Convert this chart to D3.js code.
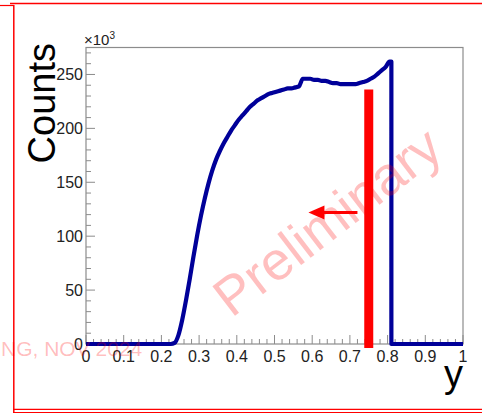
<!DOCTYPE html>
<html><head><meta charset="utf-8">
<script src="https://cdn.jsdelivr.net/npm/d3@7"></script>
<style>html,body{margin:0;padding:0;background:#fff;}svg{display:block;}</style>
</head><body>
<svg id="c" width="482" height="415"></svg>
<script>
// ---- data (counts in units of 10^3, bin width 0.01 from 0 to 1) ----
const binWidth = 0.01;
const counts = [
  0,0,0,0,0,0,0,0,0,0,
  0,0,0,0,0,0,0,0,0,0,
  0,0,0,1,8,22,40,60,81,101,
  119,135,149,161,171,179,186,192,198,203,
  208,212,216,220,223,226,228,230,232,233,
  234,235,236,237,237,238,239,246,246,246,
  245,245,244,244,243,242,242,241,241,241,
  241,241,242,243,244,246,248,251,254,257,
  262,0,0,0,0,0,0,0,0,0,
  0,0,0,0,0,0,0,0,0,0
];
const xTicks = [0,0.1,0.2,0.3,0.4,0.5,0.6,0.7,0.8,0.9,1];
const xTickLabels = ["0","0.1","0.2","0.3","0.4","0.5","0.6","0.7","0.8","0.9","1"];
const yTicks = [0,50,100,150,200,250];
const yTickLabels = ["0","50","100","150","200","250"];
const cutValue = [0.75, 0, 236];      // x position, y from, y to (10^3)
const arrowSpan = [0.59, 0.72, 122];   // tip x, tail x, height (10^3)
const xTitle = "y", yTitle = "Counts";
const watermark = "Preliminary", footnote = "NG, NOV 2024";

const svg = d3.select("#c");
const L = 86, R = 463, T = 47.5, B = 344;
const x = d3.scaleLinear().domain([0,1]).range([L,R]);
const y = d3.scaleLinear().domain([0,275]).range([B,T]);

// outer red frame
const red = "#ff0000";
svg.append("line").attr("x1",10).attr("x2",482).attr("y1",3.5).attr("y2",3.5).attr("stroke",red).attr("stroke-width",1.5);
svg.append("line").attr("x1",0).attr("x2",14).attr("y1",5.5).attr("y2",5.5).attr("stroke",red).attr("stroke-width",1.2);
svg.append("line").attr("x1",13.8).attr("x2",13.8).attr("y1",5).attr("y2",413).attr("stroke",red).attr("stroke-width",1.5);
svg.append("line").attr("x1",13).attr("x2",482).attr("y1",409.3).attr("y2",409.3).attr("stroke",red).attr("stroke-width",1.2);
svg.append("line").attr("x1",13).attr("x2",482).attr("y1",412.5).attr("y2",412.5).attr("stroke",red).attr("stroke-width",1.2);

const font = "'Liberation Sans', Arial, Helvetica, sans-serif";
const axisCol = "#8c8c8c";

// plot frame
svg.append("rect").attr("x",L).attr("y",T).attr("width",R-L).attr("height",B-T)
  .attr("fill","none").attr("stroke",axisCol).attr("stroke-width",1.2);

// ticks: x axis (inside, pointing up)
const xMinor = d3.range(0, 1.0001, 0.02);
svg.append("g").selectAll("line").data(xMinor).join("line")
  .attr("x1",d=>x(d)).attr("x2",d=>x(d)).attr("y1",B)
  .attr("y2",(d,i)=> i%5===0 ? B-9 : B-5)
  .attr("stroke",axisCol).attr("stroke-width",1);
const yMinor = d3.range(0, 271, 10);
svg.append("g").selectAll("line").data(yMinor).join("line")
  .attr("y1",d=>y(d)).attr("y2",d=>y(d)).attr("x1",L)
  .attr("x2",(d,i)=> i%5===0 ? L+9 : L+5)
  .attr("stroke",axisCol).attr("stroke-width",1);

// tick labels
svg.append("g").selectAll("text").data(xTicks).join("text")
  .attr("x",d=>x(d)).attr("y",362).attr("text-anchor","middle")
  .attr("font-family",font).attr("font-size",16).attr("fill","#222")
  .text((d,i)=>xTickLabels[i]);
svg.append("g").selectAll("text").data(yTicks).join("text")
  .attr("x",L-3).attr("y",d=>y(d)).attr("dy","0.36em").attr("text-anchor","end")
  .attr("font-family",font).attr("font-size",16).attr("fill","#222")
  .text((d,i)=>yTickLabels[i]);
// x10^3
const mult = svg.append("text").attr("x",84).attr("y",45).attr("font-family",font).attr("font-size",15).attr("fill","#222");
mult.append("tspan").text("\u00d710");
mult.append("tspan").attr("dy",-6).attr("font-size",10).text("3");

// axis titles
svg.append("text").attr("transform",`translate(55,43) rotate(-90)`)
  .attr("text-anchor","end").attr("font-family",font).attr("font-size",38).attr("fill","#000").text(yTitle);
svg.append("text").attr("x",R).attr("y",387).attr("text-anchor","end")
  .attr("font-family",font).attr("font-size",38).attr("fill","#000").text(xTitle);

// histogram line (bin centres; sharp edges where content drops to zero)
const pts = [];
counts.forEach((v,i)=>{
  const c = (i+0.5)*binWidth;
  if (i===0) pts.push([0,v]);
  const next = counts[i+1];
  if (v>0 && next===0) { pts.push([c,v]); pts.push([(i+1)*binWidth,v]); pts.push([(i+1)*binWidth,0]); }
  else pts.push([c,v]);
  if (i===counts.length-1) pts.push([1,v]);
});
const line = d3.line().x(d=>x(d[0])).y(d=>y(d[1])).curve(d3.curveMonotoneX);
svg.append("path").attr("d",line(pts)).attr("fill","none")
  .attr("stroke","#000099").attr("stroke-width",4.2).attr("stroke-linejoin","round");

// watermark texts drawn over the histogram
const wx = x(0.67), wy = y(100);
svg.append("text").attr("x",0).attr("y",0)
  .attr("transform",`translate(${wx},${wy}) rotate(-37.5)`)
  .attr("text-anchor","middle").attr("font-family",font).attr("font-size",54)
  .attr("fill",red).attr("fill-opacity",0.25).text(watermark);
svg.append("text").attr("x",1).attr("y",356).attr("font-family",font).attr("font-size",21)
  .attr("fill",red).attr("fill-opacity",0.27).text(footnote);

// cut marker
svg.append("line").attr("x1",x(cutValue[0])).attr("x2",x(cutValue[0]))
  .attr("y1",y(cutValue[1])+4).attr("y2",y(cutValue[2]))
  .attr("stroke",red).attr("stroke-width",9);
// arrow
const ay = y(arrowSpan[2]);
const tipX = x(arrowSpan[0]);
svg.append("line").attr("x1",tipX+14).attr("x2",x(arrowSpan[1])).attr("y1",ay).attr("y2",ay)
  .attr("stroke",red).attr("stroke-width",3);
svg.append("path").attr("d",`M${tipX},${ay} L${tipX+16},${ay-7} L${tipX+16},${ay+7} Z`).attr("fill",red);
</script>
</body></html>
